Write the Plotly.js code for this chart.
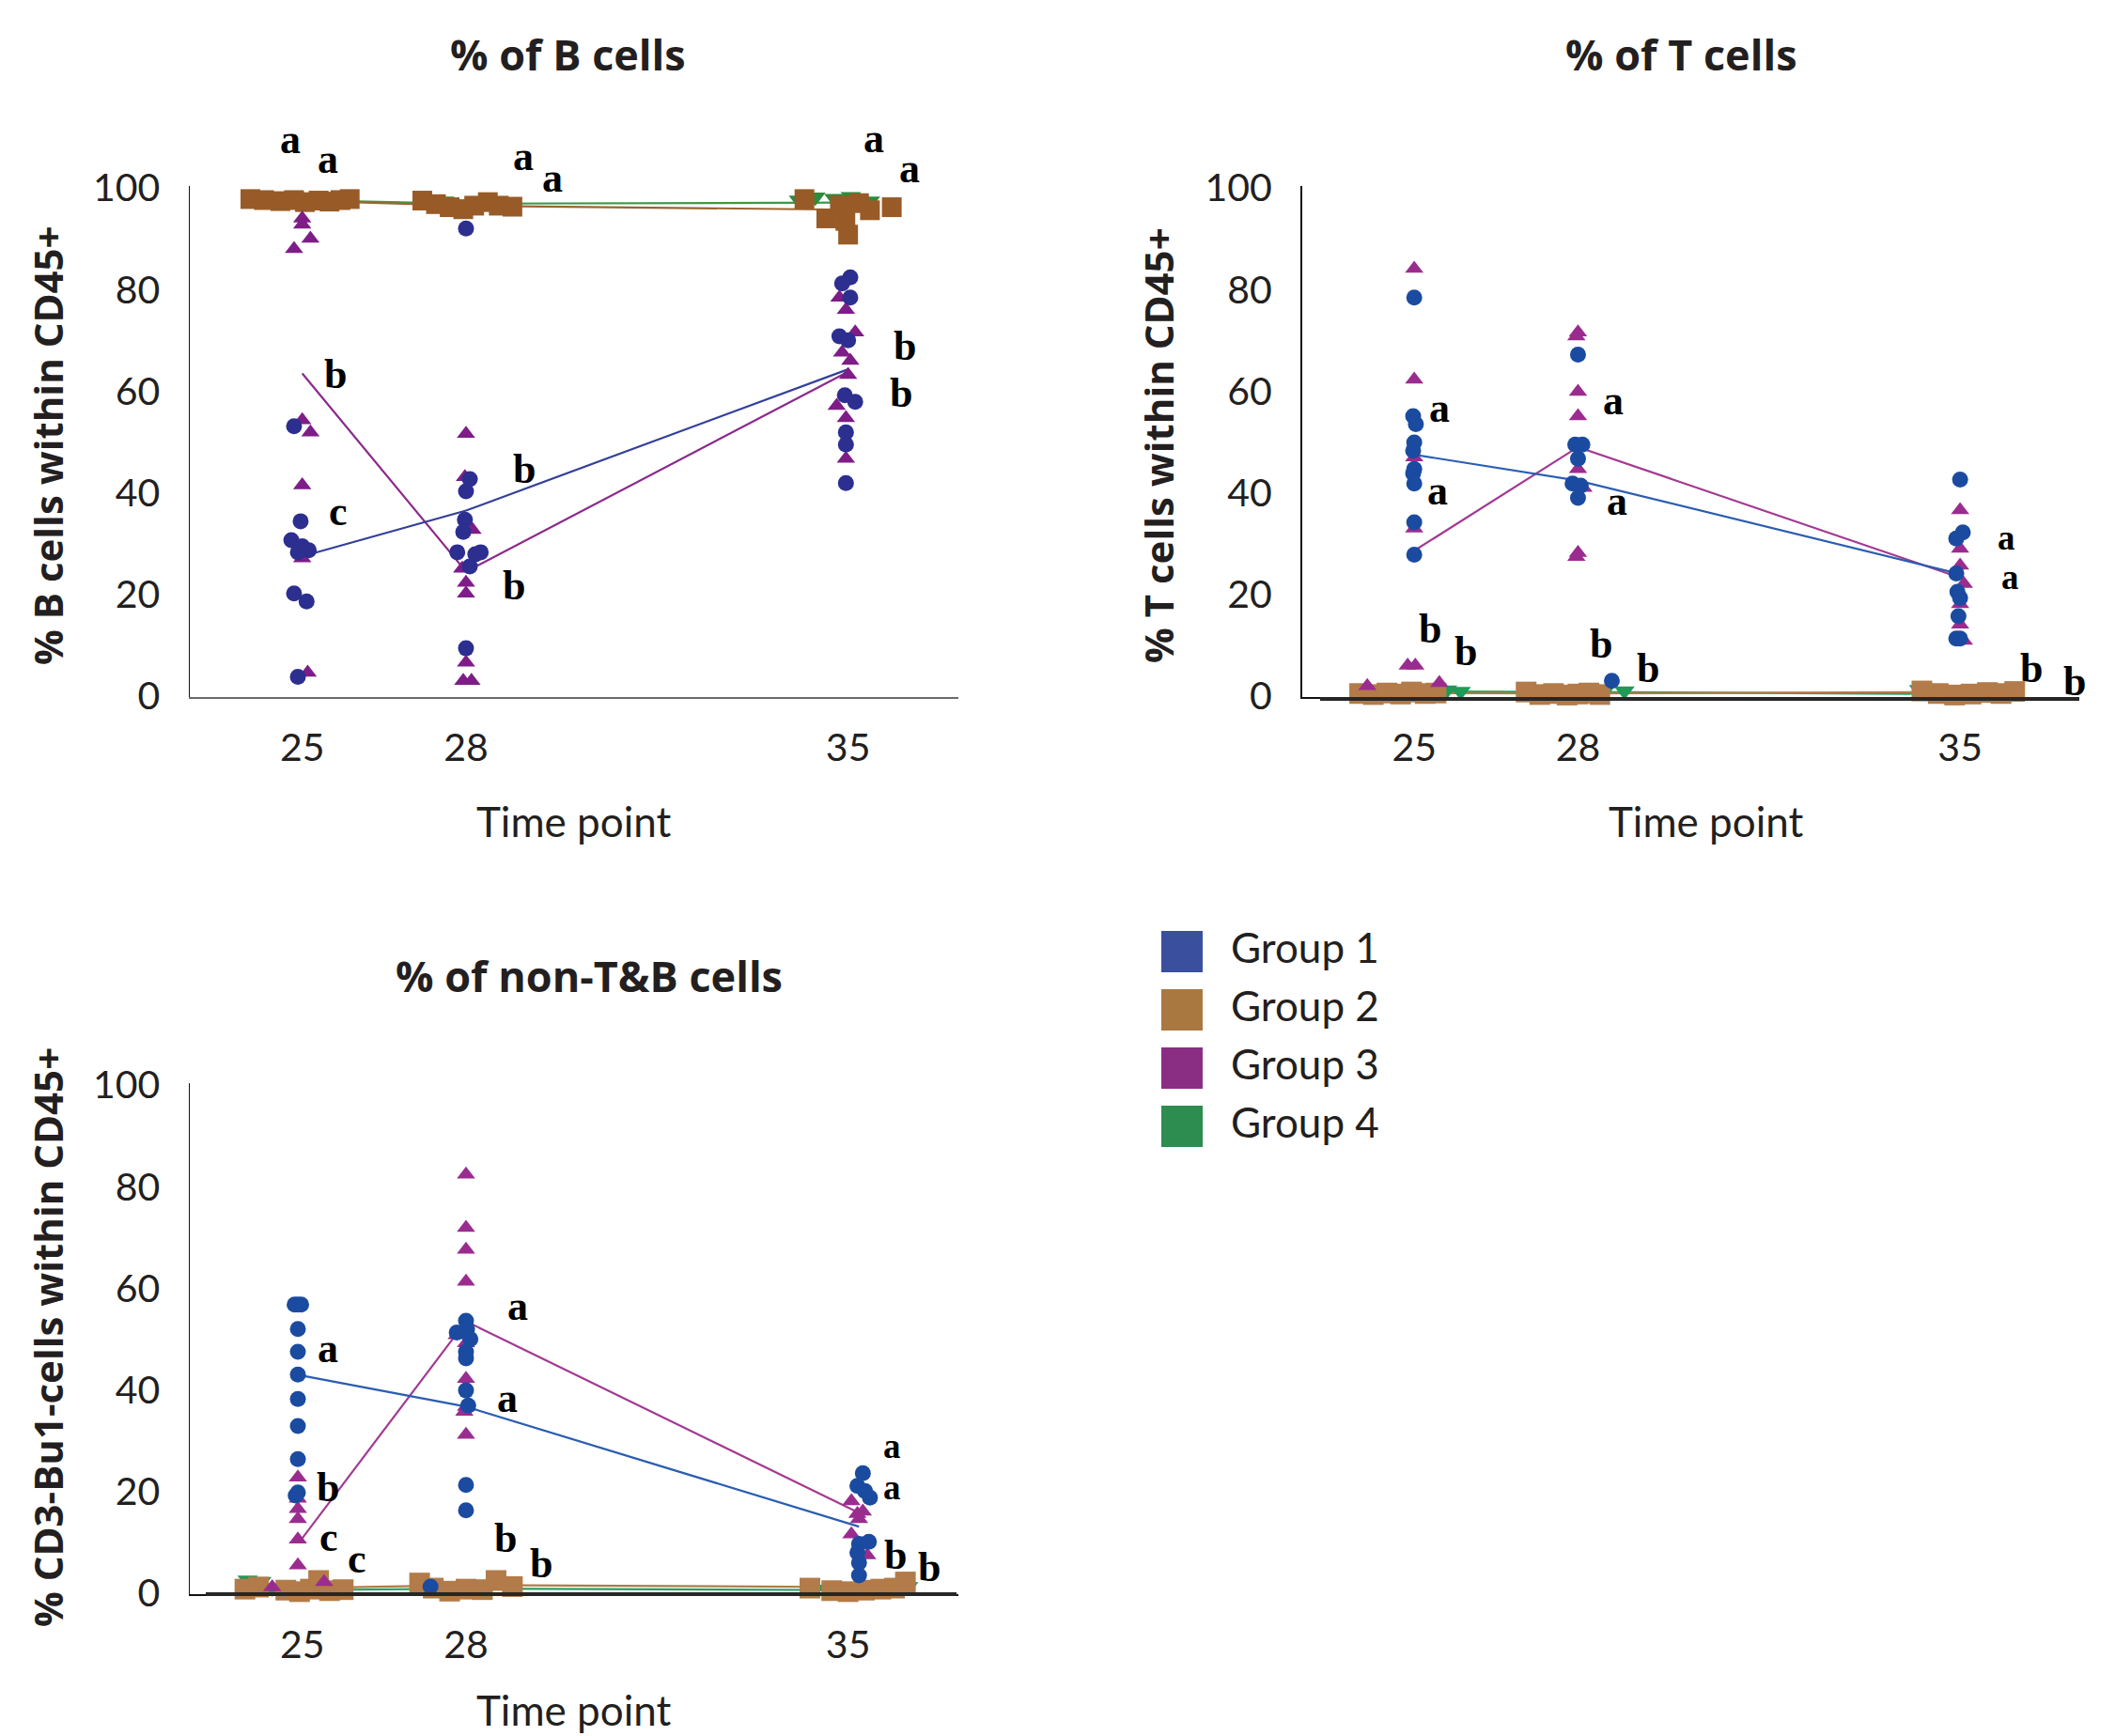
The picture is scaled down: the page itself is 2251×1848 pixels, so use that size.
<!DOCTYPE html>
<html>
<head>
<meta charset="utf-8">
<script src="https://cdn.plot.ly/plotly-3.0.1.min.js"></script>
<style>html,body{margin:0;padding:0;background:#fff;}#chart{width:2251px;height:1848px;}</style>
</head>
<body>
<div id="chart"></div>
<script>
// ---------- DATA ----------
const timePoints = [25, 28, 35];
const xTickVals = [25, 28, 35];
const yTickVals = [0, 20, 40, 60, 80, 100];
const groupNames = ['Group 1', 'Group 2', 'Group 3', 'Group 4'];
const panelTitles = ['% of B cells', '% of T cells', '% of non-T&B cells'];
const yTitles = ['% B cells within CD45+', '% T cells within CD45+', '% CD3-Bu1-cells within CD45+'];
const xTitle = 'Time point';

// Panel 1: % of B cells
const bG1x = [24.85, 24.97, 24.80, 25.00, 25.12, 24.92, 24.85, 25.08, 24.92, 28.00, 28.07, 28.00, 27.98, 27.95, 27.84, 28.17, 28.27, 28.07, 28.00, 35.04, 34.89, 35.04, 34.84, 35.00, 34.94, 35.13, 34.96, 34.96, 34.96];
const bG1y = [53.1, 34.4, 30.7, 29.5, 28.7, 28.3, 20.2, 18.6, 3.8, 92.0, 42.7, 40.3, 34.7, 32.3, 28.3, 27.9, 28.3, 25.5, 9.4, 82.4, 81.2, 78.4, 70.8, 70.0, 59.2, 57.9, 51.9, 49.5, 41.9];
const bG2x = [24.05, 24.30, 24.60, 24.85, 25.05, 25.30, 25.50, 25.70, 25.87, 27.20, 27.45, 27.70, 27.95, 28.15, 28.40, 28.60, 28.85, 34.20, 34.60, 34.85, 34.95, 35.00, 35.20, 35.40, 35.80];
const bG2y = [97.8, 97.6, 97.4, 97.6, 97.2, 97.5, 97.3, 97.6, 97.8, 97.5, 96.8, 96.2, 95.8, 96.5, 97.2, 96.5, 96.3, 97.8, 94.0, 96.5, 93.5, 90.8, 97.0, 95.6, 96.2];
const bG3x = [25.00, 25.00, 25.15, 24.85, 25.00, 25.15, 25.00, 25.00, 25.10, 28.00, 27.98, 28.12, 27.93, 28.00, 28.00, 28.00, 27.95, 28.10, 34.84, 34.96, 35.13, 34.89, 35.04, 35.00, 34.79, 34.96, 34.96];
const bG3y = [94.0, 92.8, 90.0, 88.0, 54.3, 51.9, 41.5, 27.1, 4.6, 51.6, 43.1, 32.7, 25.1, 22.3, 20.2, 6.6, 3.0, 3.0, 78.4, 76.0, 71.6, 67.6, 66.0, 63.2, 57.1, 54.7, 46.7];
const bG4x = [24.55, 24.95, 25.35, 25.65, 27.30, 27.60, 27.90, 28.20, 28.50, 34.10, 34.40, 34.75, 35.05, 35.40];
const bG4y = [97.9, 98.2, 97.6, 98.0, 97.0, 97.4, 96.8, 97.3, 96.9, 97.6, 98.2, 97.9, 98.3, 97.4];
const bMean1 = [27.5, 36.5, 64.3];
const bMean2 = [97.5, 96.5, 95.7];
const bMean3 = [63.5, 24.5, 63.8];
const bMean4 = [97.6, 96.9, 97.1];

// Panel 2: % of T cells
const tG1x = [25.00, 24.98, 25.03, 25.00, 24.98, 25.00, 24.98, 25.00, 25.00, 25.00, 28.00, 27.95, 28.08, 28.00, 27.90, 28.05, 28.00, 28.62, 35.00, 35.05, 34.93, 34.93, 34.95, 35.00, 34.97, 34.93, 35.00];
const tG1y = [78.4, 55.1, 53.5, 49.9, 48.3, 44.7, 43.8, 41.8, 34.2, 27.8, 67.2, 49.5, 49.5, 46.7, 41.8, 41.4, 39.0, 3.0, 42.6, 32.2, 31.0, 24.1, 20.5, 19.3, 15.7, 11.3, 11.3];
const tG2x = [24.00, 24.25, 24.50, 24.75, 24.95, 25.20, 25.40, 27.05, 27.30, 27.55, 27.80, 28.00, 28.20, 28.40, 34.30, 34.60, 34.90, 35.20, 35.50, 35.75, 36.00];
const tG2y = [0.5, 0.3, 0.6, 0.4, 0.8, 0.5, 0.6, 0.8, 0.3, 0.5, 0.2, 0.4, 0.6, 0.3, 1.0, 0.5, 0.2, 0.4, 0.7, 0.5, 0.9];
const tG3x = [25.00, 25.00, 25.00, 25.00, 24.88, 25.02, 25.46, 24.14, 28.00, 27.97, 28.00, 28.00, 28.00, 28.10, 28.00, 27.97, 35.00, 35.00, 35.00, 35.07, 35.00, 35.00, 35.07];
const tG3y = [84.1, 62.3, 47.0, 33.0, 6.0, 6.0, 2.6, 2.0, 71.6, 70.8, 59.9, 55.1, 44.7, 41.0, 28.2, 27.4, 36.6, 29.0, 25.7, 22.1, 18.1, 14.1, 10.9];
const tG4x = [24.70, 25.00, 25.30, 25.60, 25.85, 27.60, 27.90, 28.20, 28.50, 28.85, 34.25, 34.55, 34.90, 35.30, 35.60];
const tG4y = [0.8, 1.0, 0.9, 1.2, 0.9, 0.9, 1.1, 0.8, 1.2, 1.0, 1.3, 0.8, 1.1, 0.9, 0.7];
const tMean1 = [47.5, 42.4, 24.0];
const tMean2 = [0.6, 0.5, 0.8];
const tMean3 = [28.6, 49.0, 23.3];
const tMean4 = [0.9, 0.8, 0.4];

// Panel 3: % of non-T&B cells
const nG1x = [24.86, 24.98, 24.92, 24.92, 24.92, 24.92, 24.92, 24.92, 24.92, 24.92, 24.88, 28.00, 28.02, 27.83, 28.08, 28.00, 28.00, 28.00, 28.04, 28.00, 28.00, 27.35, 35.27, 35.17, 35.31, 35.40, 35.38, 35.20, 35.17, 35.20, 35.20];
const nG1y = [56.8, 56.8, 56.8, 52.0, 47.5, 43.0, 38.2, 32.9, 26.4, 19.8, 19.2, 53.6, 52.0, 51.3, 50.0, 47.5, 46.2, 39.9, 36.9, 21.3, 16.3, 1.3, 23.6, 21.1, 20.1, 18.8, 10.1, 9.7, 8.0, 6.0, 3.5];
const nG2x = [23.95, 24.20, 24.70, 24.95, 25.15, 25.30, 25.50, 25.75, 27.15, 27.40, 27.70, 28.00, 28.30, 28.55, 28.85, 34.30, 34.70, 35.00, 35.30, 35.60, 35.85, 36.05];
const nG2y = [0.8, 1.2, 0.6, 0.3, 0.8, 2.5, 0.5, 0.7, 2.0, 1.0, 0.4, 0.8, 0.7, 2.5, 1.3, 1.0, 0.5, 0.3, 0.6, 0.8, 1.0, 2.2];
const nG3x = [24.92, 24.92, 24.92, 24.92, 24.92, 24.92, 24.45, 25.40, 28.00, 28.00, 28.00, 28.00, 27.83, 28.00, 28.00, 28.00, 27.97, 28.00, 35.06, 35.27, 35.17, 35.20, 35.06, 35.35];
const nG3y = [22.8, 18.6, 16.6, 14.6, 10.6, 5.5, 1.2, 2.2, 82.4, 71.9, 67.6, 61.3, 50.8, 49.2, 42.2, 36.7, 35.7, 31.2, 18.1, 16.1, 15.6, 14.6, 11.6, 7.5];
const nG4x = [24.00, 24.25, 24.45, 25.75, 27.20, 27.50, 27.80, 28.10, 28.40, 34.40, 34.90, 35.30, 35.80, 36.10];
const nG4y = [2.6, 2.3, 1.0, 0.9, 1.3, 0.8, 1.0, 0.6, 0.9, 0.8, 1.2, 0.5, 0.9, 1.3];
const nMeanX = [24.95, 28.0, 35.2];
const nMean1 = [42.9, 36.7, 13.1];
const nMean2 = [1.0, 1.6, 1.2];
const nMean3 = [10.1, 53.5, 15.8];
const nMean4 = [0.6, 0.9, 0.6];

// Significance letters per panel
const bLetters = ['a', 'a', 'a', 'a', 'a', 'a', 'b', 'c', 'b', 'b', 'b', 'b'];
const tLetters = ['a', 'a', 'a', 'a', 'a', 'a', 'b', 'b', 'b', 'b', 'b', 'b'];
const nLetters = ['a', 'b', 'c', 'c', 'a', 'a', 'b', 'b', 'a', 'a', 'b', 'b'];

// ---------- LAYOUT / STYLE ----------
const W = 2251, H = 1848;
const PX = x => x / W;
const PY = y => 1 - y / H;

// letter positions (pixel centres on the page) and font size
const bLetterPos = [[309,149,44],[349,169,44],[557,167,44],[588,190,44],[930,147,44],[968,180,44],[357,398,44],[360,544,44],[558,499,44],[547,623,44],[963,368,44],[959,419,44]];
const tLetterPos = [[1532,434,44],[1530,523,44],[1717,426,44],[1721,533,44],[2135,572,37],[2139,614,37],[1522,669,44],[1560,693,44],[1704,685,44],[1754,711,44],[2162,711,44],[2208,726,44]];
const nLetterPos = [[349,1435,44],[349,1583,44],[350,1636,44],[380,1659,44],[551,1390,44],[540,1488,44],[538,1637,44],[576,1664,44],[949,1539,37],[949,1583,37],[953,1655,44],[989,1668,44]];

const palA = {g1:'#2C2F8F', g2:'#985B27', g3:'#7E1D88', g4:'#2F8A3C', l1:'#33409A', l2:'#9C6430', l3:'#8B2A8C', l4:'#3A9A45'};
const palB = {g1:'#1B4BA0', g2:'#B27B49', g3:'#9B2C8F', g4:'#1F9A57', l1:'#2A5DB0', l2:'#B07A48', l3:'#A33A93', l4:'#27A060'};

function panelTraces(xa, ya, pal, lineX, m1, m2, m3, m4, g1x, g1y, g2x, g2y, g3x, g3y, g4x, g4y, sq) {
  const base = {xaxis: xa, yaxis: ya, hoverinfo: 'skip', showlegend: false};
  return [
    Object.assign({type:'scatter', mode:'lines', x: lineX, y: m4, line:{color: pal.l4, width: 2.2}, name: groupNames[3]}, base),
    Object.assign({type:'scatter', mode:'lines', x: lineX, y: m2, line:{color: pal.l2, width: 2.2}, name: groupNames[1]}, base),
    Object.assign({type:'scatter', mode:'lines', x: lineX, y: m3, line:{color: pal.l3, width: 2.2}, name: groupNames[2]}, base),
    Object.assign({type:'scatter', mode:'lines', x: lineX, y: m1, line:{color: pal.l1, width: 2.2}, name: groupNames[0]}, base),
    Object.assign({type:'scatter', mode:'markers', x: g4x, y: g4y, marker:{symbol:'triangle-down', size: 19, color: pal.g4}, name: groupNames[3], cliponaxis:false}, base),
    Object.assign({type:'scatter', mode:'markers', x: g2x, y: g2y, marker:{symbol:'square', size: sq, color: pal.g2}, name: groupNames[1], cliponaxis:false}, base),
    Object.assign({type:'scatter', mode:'markers', x: g3x, y: g3y, marker:{symbol:'triangle-up', size: 17, color: pal.g3}, name: groupNames[2], cliponaxis:false}, base),
    Object.assign({type:'scatter', mode:'markers', x: g1x, y: g1y, marker:{symbol:'circle', size: 17, color: pal.g1}, name: groupNames[0], cliponaxis:false}, base)
  ];
}

const traces = [].concat(
  panelTraces('x', 'y', palA, timePoints, bMean1, bMean2, bMean3, bMean4, bG1x, bG1y, bG2x, bG2y, bG3x, bG3y, bG4x, bG4y, 21),
  panelTraces('x2', 'y2', palB, timePoints, tMean1, tMean2, tMean3, tMean4, tG1x, tG1y, tG2x, tG2y, tG3x, tG3y, tG4x, tG4y, 22),
  panelTraces('x3', 'y3', palB, nMeanX, nMean1, nMean2, nMean3, nMean4, nG1x, nG1y, nG2x, nG2y, nG3x, nG3y, nG4x, nG4y, 22)
);

const tickFont = {family: 'Lato, "Source Sans Pro", sans-serif', size: 41, color: '#231F20'};
const xRange = [22.94, 37.02];
const yRange = [-0.19, 100.37];

function xAxis(dom, anchor, lc, lw) {
  return {domain: dom, anchor: anchor, range: xRange, tickmode: 'array', tickvals: xTickVals,
    ticktext: xTickVals.map(String), ticks: '', showgrid: false, zeroline: false,
    showline: true, linecolor: lc, linewidth: lw, tickfont: tickFont, ticklabelstandoff: 17, fixedrange: true};
}
function yAxis(dom, anchor) {
  return {domain: dom, anchor: anchor, range: yRange, tickmode: 'array', tickvals: yTickVals,
    ticktext: yTickVals.map(String), ticks: '', showgrid: false, zeroline: false,
    showline: true, linecolor: '#111', linewidth: 1.5, tickfont: tickFont, ticklabelstandoff: 22, fixedrange: true};
}

const annotations = [];
const titleFont = {family: '"Open Sans", sans-serif', size: 45, color: '#231F20', weight: 700};
const yTitleFont = {family: '"Open Sans", sans-serif', size: 42, color: '#231F20', weight: 700};
const xTitleFont = {family: 'Lato, sans-serif', size: 44, color: '#231F20'};
const legendFont = {family: 'Lato, sans-serif', size: 44, color: '#231F20'};
const letterFont = s => ({family: '"Liberation Serif", "Times New Roman", serif', size: s, color: '#000', weight: 700});

function txt(text, x, y, font, extra) {
  annotations.push(Object.assign({text: text, xref: 'paper', yref: 'paper', x: PX(x), y: PY(y),
    xanchor: 'center', yanchor: 'middle', showarrow: false, font: font}, extra || {}));
}

txt('<b>' + panelTitles[0] + '</b>', 604, 57, titleFont);
txt('<b>' + panelTitles[1] + '</b>', 1789, 57, titleFont);
txt('<b>' + panelTitles[2].replace('&', '&amp;') + '</b>', 627, 1038, titleFont);
txt('<b>' + yTitles[0] + '</b>', 50, 474, yTitleFont, {textangle: -90});
txt('<b>' + yTitles[1] + '</b>', 1232, 474, yTitleFont, {textangle: -90});
txt('<b>' + yTitles[2] + '</b>', 50, 1424, yTitleFont, {textangle: -90});
txt(xTitle, 611, 874, xTitleFont);
txt(xTitle, 1816, 874, xTitleFont);
txt(xTitle, 611, 1820, xTitleFont);

bLetters.forEach((l, i) => txt(l, bLetterPos[i][0], bLetterPos[i][1], letterFont(bLetterPos[i][2])));
tLetters.forEach((l, i) => txt(l, tLetterPos[i][0], tLetterPos[i][1], letterFont(tLetterPos[i][2])));
nLetters.forEach((l, i) => txt(l, nLetterPos[i][0], nLetterPos[i][1], letterFont(nLetterPos[i][2])));

// legend
const legendColors = ['#3A4F9E', '#A97841', '#8A2E84', '#2D8C4F'];
const shapes = [];
groupNames.forEach((g, i) => {
  const top = 991 + i * 62;
  shapes.push({type: 'rect', xref: 'paper', yref: 'paper', x0: PX(1236), x1: PX(1280), y0: PY(top + 44), y1: PY(top),
    fillcolor: legendColors[i], line: {width: 0}});
  txt(g, 1308, top + 17, legendFont, {xanchor: 'left'});
});

// baselines in panels 2 and 3
shapes.push({type: 'line', xref: 'paper', yref: 'paper', x0: PX(1405), x1: PX(2213), y0: PY(744), y1: PY(744), line: {color: '#262626', width: 4}});
shapes.push({type: 'line', xref: 'paper', yref: 'paper', x0: PX(219), x1: PX(1018), y0: PY(1697), y1: PY(1697), line: {color: '#262626', width: 4}});

const layout = {
  width: W, height: H,
  margin: {l: 0, r: 0, t: 0, b: 0, pad: 0},
  paper_bgcolor: '#fff', plot_bgcolor: 'rgba(0,0,0,0)',
  showlegend: false,
  xaxis: xAxis([PX(202), PX(1020)], 'y', '#6B6B6B', 2),
  yaxis: yAxis([PY(742), PY(198)], 'x'),
  xaxis2: xAxis([PX(1385.5), PX(2203.5)], 'y2', '#111', 1.5),
  yaxis2: yAxis([PY(742), PY(198)], 'x2'),
  xaxis3: xAxis([PX(202), PX(1020)], 'y3', '#111', 1.5),
  yaxis3: yAxis([PY(1697), PY(1153)], 'x3'),
  annotations: annotations,
  shapes: shapes
};

Plotly.newPlot('chart', traces, layout, {staticPlot: true, displayModeBar: false});
</script>
</body>
</html>
